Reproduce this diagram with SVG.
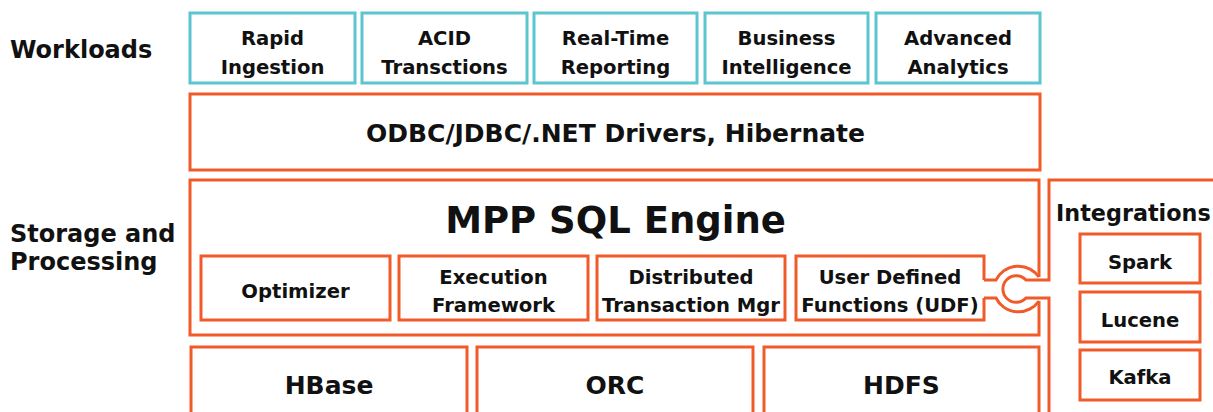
<svg xmlns="http://www.w3.org/2000/svg" width="1213" height="412" viewBox="0 0 1213 412">
<style>
text{font-family:"DejaVu Sans","Liberation Sans",sans-serif;font-weight:bold;fill:#111;text-anchor:middle}
.lbl{text-anchor:start;font-size:24px}
.wl{fill:none;stroke:#5BC5D0;stroke-width:3}
.or{fill:none;stroke:#F15A29;stroke-width:3}
.s20{font-size:19.6px}
.s25{font-size:25px}
</style>
<rect width="1213" height="412" fill="#fff"/>
<g id="labels">
<text class="lbl" x="10" y="58">Workloads</text>
<text class="lbl" x="10" y="242">Storage and</text>
<text class="lbl" x="10" y="270">Processing</text>
</g>
<g id="w1"><rect class="wl" x="190" y="13" width="165" height="70"/><text class="s20" x="272.5" y="44.5">Rapid</text><text class="s20" x="272.5" y="74">Ingestion</text></g>
<g id="w2"><rect class="wl" x="362" y="13" width="165" height="70"/><text class="s20" x="444.5" y="44.5">ACID</text><text class="s20" x="444.5" y="74">Transctions</text></g>
<g id="w3"><rect class="wl" x="534" y="13" width="163" height="70"/><text class="s20" x="615.5" y="44.5">Real-Time</text><text class="s20" x="615.5" y="74">Reporting</text></g>
<g id="w4"><rect class="wl" x="705" y="13" width="163" height="70"/><text class="s20" x="786.5" y="44.5">Business</text><text class="s20" x="786.5" y="74">Intelligence</text></g>
<g id="w5"><rect class="wl" x="876" y="13" width="164" height="70"/><text class="s20" x="958" y="44.5">Advanced</text><text class="s20" x="958" y="74">Analytics</text></g>
<g id="drivers"><rect class="or" x="190" y="94" width="850" height="76"/><text class="s25" x="615.5" y="142">ODBC/JDBC/.NET Drivers, Hibernate</text></g>
<g id="mpp"><path class="or" d="M1039,277 V180 H190 V335 H1039 V301"/><text x="615.5" y="233" style="font-size:37px">MPP SQL Engine</text></g>
<g id="optimizer"><rect class="or" x="201" y="256" width="189" height="64"/><text class="s20" x="295.5" y="297.5">Optimizer</text></g>
<g id="exec"><rect class="or" x="399" y="256" width="189" height="64"/><text class="s20" x="493.5" y="283.5">Execution</text><text class="s20" x="493.5" y="311.7">Framework</text></g>
<g id="dtm"><rect class="or" x="597" y="256" width="188" height="64"/><text class="s20" x="691" y="283.5">Distributed</text><text class="s20" x="691" y="311.7">Transaction Mgr</text></g>
<g id="udf"><path class="or" d="M984,280 V256 H796 V320 H984 V298"/><text class="s20" x="890" y="283.5">User Defined</text><text class="s20" x="890" y="311.7">Functions (UDF)</text></g>
<g id="hbase"><rect class="or" x="191" y="347" width="276" height="80"/><text class="s25" x="329" y="394">HBase</text></g>
<g id="orc"><rect class="or" x="477" y="347" width="276" height="80"/><text class="s25" x="615" y="394">ORC</text></g>
<g id="hdfs"><rect class="or" x="764" y="347" width="275" height="80"/><text class="s25" x="901.5" y="394">HDFS</text></g>
<g id="integrations"><path class="or" d="M1220,180 H1049 V280 H1026 A13.3 13.3 0 1 0 1026,298 H1049 V420"/><text class="lbl" x="1056" y="220.5" style="font-size:22.3px">Integrations</text></g>
<g id="spark"><rect class="or" x="1080" y="234" width="120" height="49"/><text class="s20" x="1140" y="269">Spark</text></g>
<g id="lucene"><rect class="or" x="1080" y="292" width="120" height="50"/><text class="s20" x="1140" y="326.7">Lucene</text></g>
<g id="kafka"><rect class="or" x="1080" y="350" width="120" height="50"/><text class="s20" x="1140" y="384">Kafka</text></g>
<g id="connectors"><path class="or" d="M984,280 H996 A25 25 0 0 1 1039,277"/><path class="or" d="M984,298 H996 A25 25 0 0 0 1039,301"/></g>
</svg>
